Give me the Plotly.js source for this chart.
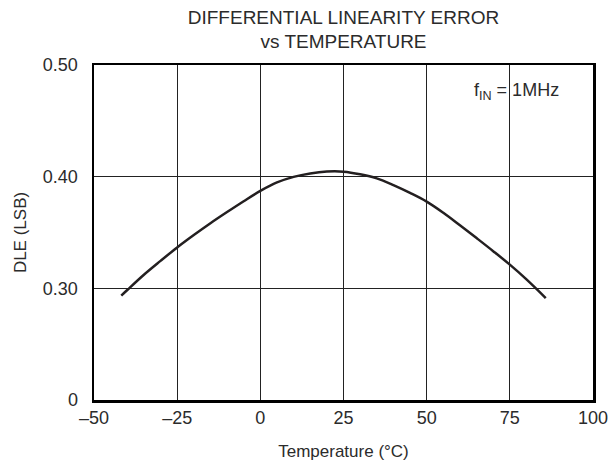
<!DOCTYPE html>
<html>
<head>
<meta charset="utf-8">
<script src="https://cdn.plot.ly/plotly-3.0.1.min.js"></script>
<style>html,body{margin:0;padding:0;background:#fff}#chart{width:608px;height:470px}</style>
</head>
<body>
<div id="chart"></div>
<script>
// Data
const temperature = [-41.8, -40, -35, -30, -25, -20, -15, -10, -5, 0, 5, 10, 15, 20, 25, 30, 35, 40, 45, 50, 55, 60, 65, 70, 75, 80, 85.8];
const dle = [0.2935, 0.2985, 0.3122, 0.3246, 0.3366, 0.3477, 0.3583, 0.3683, 0.3780, 0.3872, 0.3948, 0.3998, 0.4029, 0.4046, 0.4045, 0.4022, 0.3985, 0.3925, 0.3855, 0.3777, 0.3677, 0.3565, 0.3450, 0.3333, 0.3212, 0.3080, 0.2913];
const xTickVals = [-50, -25, 0, 25, 50, 75, 100];
const xTickText = ["\u201350", "\u201325", "0", "25", "50", "75", "100"];
const yTickVals = [0.2, 0.3, 0.4, 0.5];
const yTickText = ["0", "0.30", "0.40", "0.50"];

const fontFam = '"Liberation Sans", Arial, sans-serif';
const txt = '#2b2b2b';

const trace = {
  x: temperature, y: dle, type: 'scatter', mode: 'lines',
  line: {color: '#231f20', width: 2.5, shape: 'spline', smoothing: 1},
  hoverinfo: 'skip'
};

const layout = {
  width: 608, height: 470,
  margin: {l: 94, r: 15, t: 65, b: 70},
  paper_bgcolor: '#fff', plot_bgcolor: '#fff',
  font: {family: fontFam, size: 18, color: txt},
  showlegend: false,
  title: {
    text: 'DIFFERENTIAL LINEARITY ERROR<br>vs TEMPERATURE',
    font: {family: fontFam, size: 19, color: txt},
    x: 0.5, xref: 'paper', xanchor: 'center',
    yref: 'container', y: 0.95, yanchor: 'top'
  },
  xaxis: {
    range: [-50, 100], tickvals: xTickVals, ticktext: xTickText,
    showgrid: true, gridcolor: '#222', gridwidth: 1,
    showline: true, linecolor: '#000', linewidth: 2.5, mirror: true,
    ticks: '', zeroline: false, fixedrange: true,
    ticklabeloverflow: 'allow',
    tickfont: {size: 18},
    title: {text: 'Temperature (\u00b0C)', font: {size: 17}, standoff: 18}
  },
  yaxis: {
    range: [0.2, 0.5], tickvals: yTickVals, ticktext: yTickText,
    showgrid: true, gridcolor: '#222', gridwidth: 1,
    showline: true, linecolor: '#000', linewidth: 2.5, mirror: true,
    ticks: '', zeroline: false, fixedrange: true,
    ticklabelstandoff: 10,
    tickfont: {size: 18},
    title: {text: 'DLE (LSB)', font: {size: 17}, standoff: 12}
  },
  annotations: [{
    text: 'f<sub>IN</sub> = 1MHz', xref: 'x', yref: 'paper',
    x: 77, y: 0.92, xanchor: 'center', yanchor: 'middle', showarrow: false,
    font: {size: 18, color: txt}
  }]
};

Plotly.newPlot('chart', [trace], layout, {displayModeBar: false, staticPlot: true});
</script>
</body>
</html>
